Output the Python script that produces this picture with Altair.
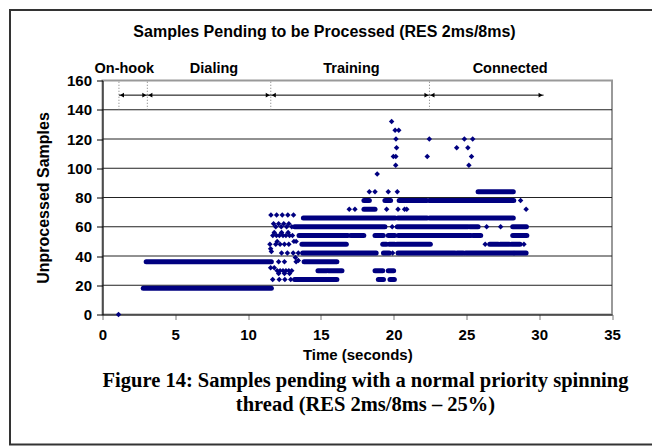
import altair as alt
import pandas as pd

# ---------------- data ----------------
# continuous runs of samples: (level, start time, end time)
run_level = [18, 36, 36,
             24, 24, 24,
             30, 30, 30, 30,
             42, 42, 42, 42, 42, 42,
             48, 48, 48, 48, 48, 48, 48,
             54, 54, 54, 54, 54, 54, 54,
             60, 60, 60, 60,
             66, 66, 66,
             72,
             78, 78, 78, 78,
             84]
run_start = [2.8, 3.0, 13.85,
             13.2, 18.95, 19.75,
             14.8, 15.52, 18.72, 19.63,
             13.75, 19.3, 20.3, 24.37, 24.95, 28.32,
             13.7, 19.25, 19.7, 20.22, 26.6, 27.32, 28.1,
             13.5, 17.05, 18.72, 19.63, 20.32, 25.45, 28.18,
             13.2, 20.25, 25.24, 28.18,
             13.8, 20.3, 22.48,
             17.96,
             17.96, 19.4, 20.38, 22.45,
             25.8]
run_end = [11.6, 11.6, 16.1,
           16.1, 19.3, 20.05,
           15.4, 16.45, 19.25, 20.0,
           18.8, 19.7, 24.22, 24.78, 28.22, 29.1,
           16.75, 19.5, 20.08, 22.52, 27.18, 27.94, 28.68,
           16.85, 17.95, 19.29, 20.08, 25.3, 25.98, 29.15,
           19.4, 25.1, 25.8, 29.12,
           20.1, 22.3, 28.22,
           18.72,
           18.33, 19.79, 22.27, 28.25,
           28.22]

# isolated samples
pt_time = [1.1,
           11.57, 11.96, 12.35, 12.73, 13.12,
           11.75, 12.1, 12.45, 12.8,
           11.9, 12.28, 12.65, 13.0, 19.9, 26.39, 27.35,
           11.8, 12.3, 12.75,
           11.7, 11.95, 12.15, 12.4, 12.6, 12.85, 13.05,
           12.0, 13.15, 13.3,
           11.5, 11.9, 12.2, 12.5, 12.8, 26.29, 28.95,
           11.55, 11.6,
           12.3, 12.7, 13.1, 13.45, 19.93,
           13.25, 13.45, 12.1, 12.5, 13.3,
           11.55, 11.8,
           12.0, 12.2, 12.4, 12.6, 12.8, 13.0,
           12.1, 12.5, 12.85,
           11.69, 12.14, 12.53, 12.93,
           16.95, 17.34, 19.52, 20.3, 20.75, 20.9, 29.1,
           28.72,
           18.33, 18.72, 19.63, 20.25,
           18.87,
           20.14, 25.17,
           19.98, 20.15, 22.31, 25.35,
           20.2, 24.33, 25.1,
           20.16, 22.45, 24.86, 25.43,
           20.1, 20.35,
           19.86]
pt_value = [0,
            68, 68, 68, 68, 68,
            62, 62, 62, 62,
            60, 60, 60, 60, 60, 60, 60,
            56, 56, 56,
            54, 54, 54, 54, 54, 54, 54,
            50, 50, 50,
            48, 48, 48, 48, 48, 48, 48,
            45, 43,
            42, 42, 42, 42, 42,
            39, 37, 36, 36, 36,
            32, 32,
            30, 30, 30, 30, 30, 30,
            28, 28, 28,
            24, 24, 24, 24,
            72, 72, 72, 72, 72, 72, 72,
            78,
            84, 84, 84, 84,
            96,
            102, 102,
            108, 108, 108, 108,
            114, 114, 114,
            120, 120, 120, 120,
            126, 126,
            132]

phase_names = ["On-hook", "Dialing", "Training", "Connected"]
phase_start = [1.13, 3.08, 11.56, 22.46]
phase_end = [3.08, 11.56, 22.46, 30.3]
phase_label_t = [1.5, 7.66, 17.1, 28.0]
phase_arrow_level = 150
boundary_t = [1.13, 3.08, 11.56, 22.46]

x_ticks = [0, 5, 10, 15, 20, 25, 30, 35]
y_ticks = [0, 20, 40, 60, 80, 100, 120, 140, 160]
grid_levels = [20, 40, 60, 80, 100, 120, 140]

chart_title = "Samples Pending to be Processed (RES 2ms/8ms)"
caption_line1 = "Figure 14: Samples pending with a normal priority spinning"
caption_line2 = "thread (RES 2ms/8ms \u2013 25%)"

# ---------------- layout ----------------
W, H = 509.5, 234
PL, PT = 102.5, 80.5
NAVY = "#000080"
SANS = "Liberation Sans"
SERIF = "Liberation Serif"

xs = alt.Scale(domain=[0, 35], nice=False)
ys = alt.Scale(domain=[0, 160], nice=False)

runs = pd.DataFrame({"level": run_level, "t0": run_start, "t1": run_end})
pts = pd.DataFrame({"t": pt_time, "v": pt_value})
phases = pd.DataFrame({"name": phase_names, "t0": phase_start, "t1": phase_end,
                       "tl": phase_label_t, "lev": phase_arrow_level})
bounds = pd.DataFrame({"t": boundary_t, "a": 140, "b": 160})
grid = pd.DataFrame({"g": grid_levels})

x_axis = alt.Axis(values=x_ticks, title="Time (seconds)", grid=False,
                  labelFont=SANS, labelFontSize=15, labelFontWeight="bold",
                  labelColor="black", labelPadding=8, tickSize=5,
                  tickColor="#777", domainColor="black", labelOverlap=False,
                  titleFont=SANS, titleFontSize=15, titleFontWeight="bold",
                  titleColor="black", titlePadding=5, labelFlush=False)
y_axis = alt.Axis(values=y_ticks, title="Unprocessed Samples", grid=False,
                  labelFont=SANS, labelFontSize=15, labelFontWeight="bold",
                  labelColor="black", labelPadding=5, tickSize=6,
                  tickColor="black", domainColor="black", labelOverlap=False,
                  titleFont=SANS, titleFontSize=16, titleFontWeight="bold",
                  titleColor="black", titlePadding=15, labelFlush=False)


def X(field):
    return alt.X(field, scale=xs, axis=x_axis)


def Y(field):
    return alt.Y(field, scale=ys, axis=y_axis)


gridlines = alt.Chart(grid).mark_rule(color="#222", strokeWidth=1).encode(y=Y("g:Q"))

run_marks = alt.Chart(runs).mark_rule(color=NAVY, strokeWidth=5, strokeCap="round").encode(
    x=X("t0:Q"), x2="t1:Q", y=Y("level:Q"))

pt_marks = alt.Chart(pts).mark_point(shape="diamond", filled=True, color=NAVY,
                                      size=30, opacity=1).encode(
    x=X("t:Q"), y=Y("v:Q"))

bound_marks = alt.Chart(bounds).mark_rule(color="#777", strokeWidth=1,
                                          strokeDash=[1, 2]).encode(
    x=X("t:Q"), y=Y("a:Q"), y2="b:Q")

arrow_lines = alt.Chart(phases).mark_rule(color="black", strokeWidth=1).encode(
    x=X("t0:Q"), x2="t1:Q", y=Y("lev:Q"))
head_left = alt.Chart(phases).mark_point(shape="triangle-left", filled=True,
                                         color="black", size=22, opacity=1,
                                         xOffset=3).encode(
    x=X("t0:Q"), y=Y("lev:Q"))
head_right = alt.Chart(phases).mark_point(shape="triangle-right", filled=True,
                                          color="black", size=22, opacity=1,
                                          xOffset=-3).encode(
    x=X("t1:Q"), y=Y("lev:Q"))

phase_labels = alt.Chart(phases).mark_text(font=SANS, fontSize=14.5, fontWeight="bold",
                                           color="black", baseline="middle").encode(
    x=X("tl:Q"), y=alt.value(-11.5), text="name:N")

title_mark = alt.Chart(pd.DataFrame({"s": [chart_title]})).mark_text(
    font=SANS, fontSize=16, fontWeight="bold", color="black", baseline="middle").encode(
    x=alt.value(222), y=alt.value(-48.5), text="s:N")

caption1 = alt.Chart(pd.DataFrame({"s": [caption_line1]})).mark_text(
    font=SERIF, fontSize=20.5, fontWeight="bold", color="black",
    baseline="middle").encode(x=alt.value(263), y=alt.value(300.5), text="s:N")
caption2 = alt.Chart(pd.DataFrame({"s": [caption_line2]})).mark_text(
    font=SERIF, fontSize=20.5, fontWeight="bold", color="black",
    baseline="middle").encode(x=alt.value(263), y=alt.value(324.5), text="s:N")

frame = alt.Chart(pd.DataFrame({"k": [0]})).mark_rect(
    fillOpacity=0, stroke="#333", strokeWidth=2).encode(
    x=alt.value(10 - PL), x2=alt.value(653 - PL),
    y=alt.value(10 - PT), y2=alt.value(444.5 - PT))

chart = alt.layer(
    frame, gridlines, bound_marks, arrow_lines, head_left, head_right,
    run_marks, pt_marks, phase_labels, title_mark, caption1, caption2
).properties(
    width=W, height=H,
    autosize=alt.AutoSizeParams(type="none"),
    padding={"left": PL, "top": PT, "right": 652 - PL - W, "bottom": 446 - PT - H},
    background="white"
).configure_view(stroke="#999", strokeWidth=2).configure_axis(labelOverlap=False)

chart.save("out.html", embed_options={"renderer": "svg", "actions": False})
